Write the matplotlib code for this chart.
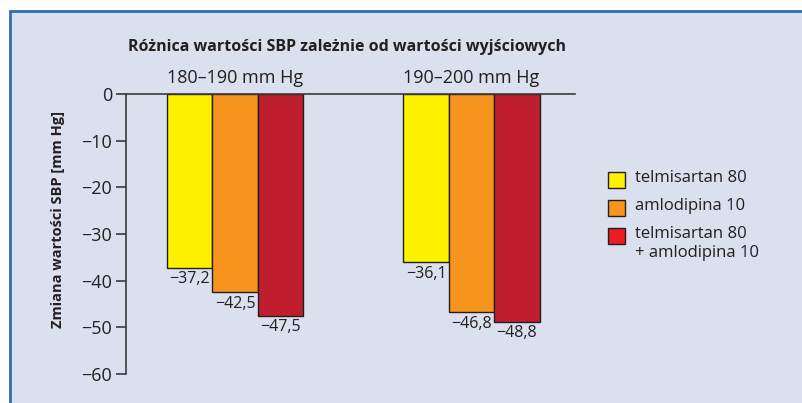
import matplotlib
matplotlib.use("Agg")
import matplotlib.pyplot as plt
from matplotlib.patches import Rectangle
import numpy as np

# -------- Data --------
groups = ["180–190 mm Hg", "190–200 mm Hg"]
series = ["telmisartan 80", "amlodipina 10", "telmisartan 80\n+ amlodipina 10"]
telmisartan = [-37.2, -36.1]
amlodipina = [-42.5, -46.8]
combo = [-47.5, -48.8]
yticks = [0, -10, -20, -30, -40, -50, -60]

bar_colors = ["#fff200", "#f7941d", "#be1e2d"]
legend_colors = ["#fff200", "#f7941d", "#ed1c24"]
bg = "#dbe0ee"

plt.rcParams["font.family"] = ["Open Sans", "DejaVu Sans"]

fig = plt.figure(figsize=(8.03, 4.03), dpi=100)
fig.patch.set_facecolor("white")

# panel background with blue border
panel = Rectangle((10 / 803, -0.05), 1.0, 1 - 11 / 403 + 0.05,
                  transform=fig.transFigure, facecolor=bg,
                  edgecolor="#2f6db5", linewidth=2.0, zorder=-10)
fig.patches.append(panel)

ax = fig.add_axes([126 / 803, 1 - 374 / 403, 449 / 803, 280 / 403])
ax.set_facecolor("none")

x = np.arange(len(groups))
w = 0.192
values = [telmisartan, amlodipina, combo]
for i, (vals, col) in enumerate(zip(values, bar_colors)):
    pos = x + (i - 1) * w
    ax.bar(pos, vals, width=w, color=col, edgecolor="#231f20",
           linewidth=1.0, zorder=2)
    for px, v in zip(pos, vals):
        ax.text(px, v - 0.8, f"−{abs(v):.1f}".replace(".", ","),
                ha="center", va="top", fontsize=11.5, color="#231f20")

ax.set_xlim(-0.461, 1.438)
ax.set_ylim(-60, 0)
ax.set_yticks(yticks)
ax.set_yticklabels([("−" if t < 0 else "") + str(abs(t)) for t in yticks],
                   fontsize=13, color="#231f20")
ax.set_xticks([])
for s in ["right", "bottom"]:
    ax.spines[s].set_visible(False)
ax.spines["left"].set_color("#3a3a3a")
ax.spines["top"].set_color("#3a3a3a")
ax.spines["left"].set_linewidth(1.2)
ax.spines["top"].set_linewidth(1.2)
ax.tick_params(axis="y", length=7, width=1.2, color="#3a3a3a", pad=3)

for gx, g in zip(x, groups):
    ax.text(gx, 1.5, g, ha="center", va="bottom", fontsize=13,
            color="#231f20", clip_on=False)

fig.text(347 / 803, 1 - 47 / 403, "Różnica wartości SBP zależnie od wartości wyjściowych",
         ha="center", va="center", fontsize=11.5, fontweight="bold", color="#231f20")
fig.text(58 / 803, 1 - 219 / 403, "Zmiana wartości SBP [mm Hg]", rotation=90,
         ha="center", va="center", fontsize=10.5, fontweight="bold", color="#231f20")

# legend drawn by hand so the multi-line entry aligns its box with the first line
legend_y = [180, 208, 236]
for ly, lab, col in zip(legend_y, series, legend_colors):
    fig.patches.append(Rectangle((608 / 803, 1 - (ly + 8) / 403), 17 / 803, 16 / 403,
                                 transform=fig.transFigure, facecolor=col,
                                 edgecolor="#231f20", linewidth=1.0))
    fig.text(635 / 803, 1 - (ly - 10) / 403, lab, ha="left", va="top",
             fontsize=12, color="#231f20", linespacing=1.25)

fig.savefig("out.png", dpi=100, facecolor=fig.get_facecolor())
